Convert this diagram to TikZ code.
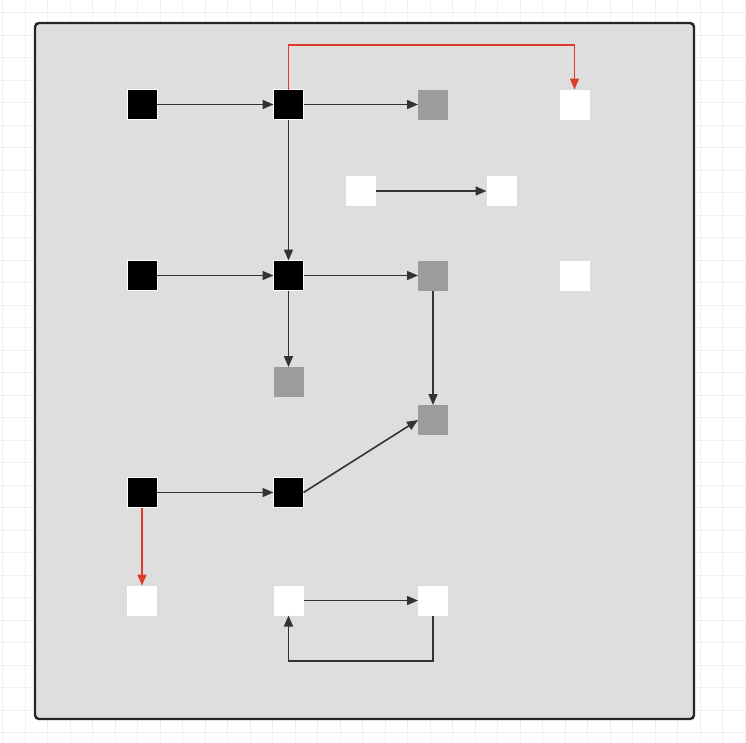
\documentclass[tikz,border=0pt]{standalone}
\usetikzlibrary{arrows.meta}
\definecolor{panelfill}{HTML}{DEDEDE}
\definecolor{nodegray}{HTML}{9C9C9C}
\definecolor{edgedark}{HTML}{333333}
\definecolor{edgered}{HTML}{DD3B2C}
\definecolor{gridline}{HTML}{F0F0F0}
\begin{document}
\begin{tikzpicture}[x=1pt,y=-1pt,
  sq/.style={minimum width=30pt,minimum height=30pt,inner sep=0pt,outer sep=0pt,line width=1pt},
  blk/.style={sq,fill=black,draw=white},
  gry/.style={sq,fill=nodegray},
  wht/.style={sq,fill=white},
  link/.style={draw=edgedark,line width=1.6pt,-{Triangle[length=11pt,width=9pt]}},
  redlink/.style={draw=edgered,line width=1.6pt,-{Triangle[length=11pt,width=9pt]}}]
\useasboundingbox (0,0) rectangle (746,742);
\fill[white] (0,0) rectangle (746,742);
% faint grid
\foreach \i in {0,...,33} {\draw[gridline,line width=0.6pt] ({2.5+22.5*\i},0) -- ({2.5+22.5*\i},742);}
\foreach \j in {0,...,32} {\draw[gridline,line width=0.6pt] (0,{12.5+22.5*\j}) -- (746,{12.5+22.5*\j});}
% panel
\draw[fill=panelfill,draw=black!85,line width=2.4pt,rounded corners=4pt] (35,23) rectangle (694,719);
% nodes
\node[blk] (b11) at (142,104.5) {};
\node[blk] (b12) at (288.5,104.5) {};
\node[gry] (g13) at (433,104.5) {};
\node[wht] (w14) at (574.5,104.5) {};
\node[wht] (w21) at (360.5,191) {};
\node[wht] (w22) at (501.5,191) {};
\node[blk] (b31) at (142,275.5) {};
\node[blk] (b32) at (288.5,275.5) {};
\node[gry] (g33) at (433,275.5) {};
\node[wht] (w34) at (574.5,275.5) {};
\node[gry] (g41) at (288.5,382) {};
\node[gry] (g42) at (433,420) {};
\node[blk] (b51) at (142,492.5) {};
\node[blk] (b52) at (288.5,492.5) {};
\node[wht] (w61) at (142,600.5) {};
\node[wht] (w62) at (288.5,600.5) {};
\node[wht] (w63) at (433,600.5) {};
\coordinate (rtop1) at (288.5,45);
\coordinate (rtop2) at (574.5,45);
\coordinate (lb1) at (433,661);
\coordinate (lb2) at (288.5,661);
% connectors
\draw[link] (b11) -- (b12);
\draw[link] (b12) -- (g13);
\draw[redlink] (b12.north) -- (rtop1) -- (rtop2) -- (w14.north);
\draw[link] (w21) -- (w22);
\draw[link] (b12) -- (b32);
\draw[link] (b31) -- (b32);
\draw[link] (b32) -- (g33);
\draw[link] (b32) -- (g41);
\draw[link] (g33) -- (g42);
\draw[link] (b51) -- (b52);
\draw[link] (b52.east) -- (g42.west);
\draw[redlink] (b51) -- (w61);
\draw[link] (w62) -- (w63);
\draw[link] (w63.south) -- (lb1) -- (lb2) -- (w62.south);
\end{tikzpicture}
\end{document}
